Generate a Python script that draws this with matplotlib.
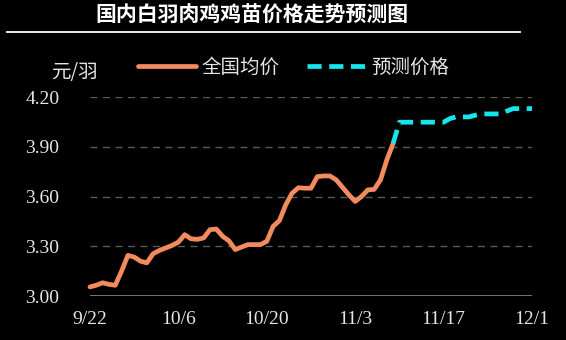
import matplotlib.pyplot as plt
from matplotlib.lines import Line2D

# Data (day offsets from 9/22)
actual_days = list(range(0, 49))
actual_price = [3.055, 3.065, 3.08, 3.07, 3.065, 3.15, 3.245, 3.235, 3.21, 3.20,
                3.255, 3.275, 3.29, 3.305, 3.325, 3.37, 3.345, 3.342, 3.35, 3.40,
                3.404, 3.36, 3.333, 3.28, 3.295, 3.31, 3.31, 3.31, 3.33, 3.42,
                3.455, 3.55, 3.62, 3.653, 3.65, 3.65, 3.72, 3.724, 3.724, 3.70,
                3.655, 3.61, 3.57, 3.60, 3.64, 3.643, 3.70, 3.82, 3.92]
forecast_days = list(range(48, 71))
forecast_price = [3.92, 4.048, 4.048, 4.048, 4.048, 4.048, 4.048, 4.048, 4.048, 4.07,
                  4.08, 4.08, 4.08, 4.09, 4.098, 4.098, 4.098, 4.098, 4.115, 4.13,
                  4.13, 4.13, 4.13]
tick_days = [0, 14, 28, 42, 56, 70]
tick_labels = ['9/22', '10/6', '10/20', '11/3', '11/17', '12/1']
y_ticks = [3.00, 3.30, 3.60, 3.90, 4.20]

cjk = ['Noto Sans CJK SC', 'DejaVu Sans']
serif = 'Liberation Serif'
orange = '#F28B5E'
cyan = '#13E6EE'

fig = plt.figure(figsize=(5.66, 3.4), dpi=100, facecolor='black')
ax = fig.add_axes([0.159, 0.1294, 0.781, 0.5853], facecolor='black')

# Grid lines
for y in y_ticks[1:]:
    ax.axhline(y, color='#5a5a5a', linestyle=(0, (5, 4)), linewidth=1.0, zorder=1)
ax.axhline(3.0, color='#9a9a9a', linewidth=1.8, zorder=1)

ax.plot(actual_days, actual_price, color=orange, linewidth=3.4,
        solid_joinstyle='round', solid_capstyle='round', zorder=3, clip_on=False)
ax.plot(forecast_days, forecast_price, color=cyan, linewidth=3.4,
        linestyle=(0, (3.0, 1.6)), dash_capstyle='butt', zorder=4, clip_on=False)

ax.set_xlim(0, 70)
ax.set_ylim(3.0, 4.2)
ax.set_xticks(tick_days)
ax.set_xticklabels(tick_labels)
ax.set_yticks(y_ticks)
ax.set_yticklabels([f'{v:.2f}' for v in y_ticks])
for lab in ax.get_xticklabels() + ax.get_yticklabels():
    lab.set_fontfamily(serif)
    lab.set_fontsize(14)
    lab.set_color('#e6e6e6')
ax.tick_params(axis='both', length=0)
ax.tick_params(axis='x', pad=11)
ax.tick_params(axis='y', pad=22)
for s in ax.spines.values():
    s.set_visible(False)

# Legend
handles = [Line2D([0], [0], color=orange, linewidth=3.4, solid_capstyle='round'),
           Line2D([0], [0], color=cyan, linewidth=3.4, linestyle=(0, (3.0, 1.6)))]
leg = ax.legend(handles, ['全国均价', '预测价格'], ncol=2, frameon=False,
                loc='center left', bbox_to_anchor=(0.108, 1.151),
                borderaxespad=0, borderpad=0,
                handlelength=3.0, handletextpad=0.3, columnspacing=1.4,
                prop={'family': cjk, 'size': 14})
for t in leg.get_texts():
    t.set_color('#e6e6e6')

# Unit label
fig.text(0.131, 0.788, '元/羽', family=cjk, fontsize=14, color='#e6e6e6',
         ha='center', va='center')

# Title and rule
fig.text(0.445, 0.955, '国内白羽肉鸡鸡苗价格走势预测图', family=cjk, fontsize=15,
         fontweight='bold', color='white', ha='center', va='center')
fig.add_artist(Line2D([0.012, 0.919], [0.906, 0.906], color='white', linewidth=1.3,
                      transform=fig.transFigure))

fig.savefig('out.png', dpi=100, facecolor='black')
